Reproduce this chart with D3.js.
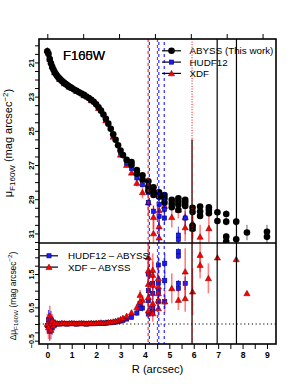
<!DOCTYPE html>
<html>
<head>
<meta charset="utf-8">
<script src="https://cdn.jsdelivr.net/npm/d3@7"></script>
<style>
  html, body { margin: 0; padding: 0; background: #fff; }
  svg { display: block; font-family: "Liberation Sans", Arial, sans-serif; }
</style>
</head>
<body>
<script>
// ABYSS profile, inner part (dense sampling)
const abyssInR = [0, 0.05, 0.1, 0.15, 0.2, 0.25, 0.3, 0.35, 0.4, 0.45, 0.5, 0.55, 0.6, 0.65, 0.7, 0.75, 0.8, 0.85, 0.9, 0.95, 1.0,
  1.1, 1.2, 1.3, 1.4, 1.5, 1.6, 1.7, 1.8, 1.9, 2.0, 2.1, 2.2, 2.3, 2.4, 2.5, 2.6, 2.7, 2.8, 2.9, 3.0, 3.1, 3.25];
const abyssInMu = [20.35, 20.5, 20.8, 21.05, 21.25, 21.42, 21.56, 21.68, 21.78, 21.87, 21.95, 22.02, 22.09, 22.15, 22.21, 22.26, 22.31, 22.36, 22.41, 22.46, 22.5,
  22.58, 22.66, 22.74, 22.82, 22.9, 22.99, 23.08, 23.18, 23.3, 23.45, 23.62, 23.82, 24.05, 24.3, 24.58, 24.88, 25.2, 25.52, 25.85, 26.15, 26.42, 26.7];

// ABYSS profile, outer part (several values per radius)
const abyssOutR = [3.45, 3.67, 3.9, 4.14, 4.35, 4.58, 4.8, 5.1, 5.37, 5.65, 5.95, 6.26, 6.62, 6.97, 7.33, 7.74, 8.18, 9.0];
const abyssOutMu = [[26.82, 27.0], [27.3, 27.5], [27.6, 27.85], [27.95, 28.26, 28.5], [28.3, 28.55, 28.75], [28.6, 28.85],
  [28.75, 28.95, 29.2], [29.04, 29.27, 29.47], [28.94, 29.14, 29.33, 29.63], [29.04, 29.2, 29.39], [29.5, 29.75, 30.55, 30.72],
  [29.43, 29.72, 29.98], [29.47, 29.63, 29.82], [29.76, 30.27], [29.86, 30.31, 31.19, 31.48], [30.31, 31.34], [30.95], [30.9, 31.2]];
const abyssOutErr = [0.03, 0.04, 0.05, 0.06, 0.07, 0.08, 0.09, 0.1, 0.12, 0.13, 0.15, 0.16, 0.18, 0.2, 0.22, 0.25, 0.45, 0.4];

// HUDF12 profile
const hudfR = [0.02, 0.1, 0.2, 0.3, 0.5, 0.7, 0.9, 1.2, 1.5, 1.8, 2.1, 2.4, 2.7, 3.0, 3.25, 3.45, 3.67, 3.9, 4.14, 4.14,
  4.35, 4.58, 4.58, 4.8, 4.8, 5.37, 5.37, 5.65];
const hudfMu = [20.42, 20.82, 21.26, 21.57, 21.96, 22.22, 22.42, 22.67, 22.91, 23.2, 23.64, 24.33, 25.25, 26.25, 26.88, 27.2, 27.75, 28.15, 28.6, 29.2,
  29.7, 29.3, 30.0, 29.6, 30.1, 31.1, 31.35, 30.1];
const hudfErr = [0, 0, 0, 0, 0, 0, 0, 0, 0, 0, 0, 0, 0, 0.02, 0.03, 0.04, 0.06, 0.08, 0.12, 0.2,
  0.3, 0.25, 0.35, 0.3, 0.4, 0.5, 0.5, 0.4];

// XDF profile
const xdfR = [0, 0.1, 0.2, 0.3, 0.5, 0.7, 0.9, 1.2, 1.5, 1.8, 2.1, 2.4, 2.7, 3.0, 3.25, 3.45, 3.67, 3.9, 4.14,
  4.35, 4.35, 4.58, 4.58, 4.58, 4.8, 5.1, 5.37, 5.65, 5.65, 5.95, 5.95, 6.26, 6.62];
const xdfMu = [20.3, 20.8, 21.25, 21.58, 21.97, 22.23, 22.43, 22.68, 22.93, 23.22, 23.68, 24.4, 25.35, 26.4, 27.0, 27.45, 28.05, 28.6, 29.2,
  30.05, 31.0, 29.65, 30.6, 31.25, 29.4, 30.05, 29.62, 30.05, 30.65, 30.4, 30.72, 31.2, 30.7];
const xdfErr = [0, 0, 0, 0, 0, 0, 0, 0, 0, 0, 0, 0, 0.03, 0.05, 0.08, 0.12, 0.2, 0.35, 0.8,
  0.7, 0.8, 0.9, 0.8, 0.6, 0.7, 0.6, 0.5, 1.0, 0.8, 0.9, 0.8, 0.7, 0.8];

// differences, inner radii shared by both
const diffR = [0, 0.05, 0.1, 0.15, 0.2, 0.25, 0.3, 0.4, 0.5, 0.6, 0.7, 0.8, 0.9, 1.0, 1.1, 1.2, 1.3, 1.4, 1.5, 1.6, 1.7, 1.8, 1.9,
  2.0, 2.1, 2.2, 2.3, 2.4, 2.5, 2.6, 2.7, 2.8, 2.9, 3.0, 3.1, 3.25, 3.45, 3.67, 3.9];
const hudfDiffIn = [-0.05, 0.12, -0.22, 0.15, -0.12, 0.06, -0.02, 0.01, 0.0, 0.02, 0.01, 0.0, 0.01, 0.02, 0.01, 0.0, 0.01, 0.02, 0.01, 0.0, 0.01, 0.02, 0.01,
  0.02, 0.02, 0.03, 0.02, 0.03, 0.04, 0.04, 0.05, 0.06, 0.07, 0.09, 0.11, 0.15, 0.2, 0.33, 0.48];
const hudfDiffInErr = [0.2, 0.3, 0.28, 0.25, 0.2, 0.12, 0.06, 0.02, 0.02, 0.02, 0.02, 0.02, 0.02, 0.02, 0.02, 0.02, 0.02, 0.02, 0.02, 0.02, 0.02, 0.02, 0.02,
  0.02, 0.02, 0.02, 0.02, 0.02, 0.02, 0.02, 0.02, 0.03, 0.03, 0.04, 0.04, 0.05, 0.06, 0.08, 0.1];
const xdfDiffIn = [0.0, -0.1, 0.25, -0.18, 0.1, -0.05, 0.03, 0.02, 0.01, 0.03, 0.02, 0.01, 0.02, 0.03, 0.02, 0.01, 0.02, 0.03, 0.02, 0.01, 0.02, 0.03, 0.02,
  0.03, 0.03, 0.04, 0.03, 0.04, 0.05, 0.06, 0.07, 0.09, 0.11, 0.14, 0.18, 0.24, 0.34, 0.5, 0.72];
const xdfDiffInErr = [0.3, 0.35, 0.3, 0.28, 0.2, 0.12, 0.06, 0.02, 0.02, 0.02, 0.02, 0.02, 0.02, 0.02, 0.02, 0.02, 0.02, 0.02, 0.02, 0.02, 0.02, 0.02, 0.02,
  0.02, 0.02, 0.02, 0.02, 0.02, 0.02, 0.02, 0.02, 0.03, 0.04, 0.04, 0.05, 0.06, 0.08, 0.1, 0.15];

// differences, outer radii
const hudfDiffOutR = [3.8, 3.8, 4.14, 4.14, 4.14, 4.14, 4.32, 4.32, 4.32, 4.32, 4.55, 4.55, 4.55, 4.55, 4.81, 4.81, 4.81, 5.37, 5.37, 5.37, 5.37, 5.65];
const hudfDiffOut = [0.47, 0.62, 0.3, 0.7, 1.0, 1.5, 1.22, 0.92, 0.47, 0.37, 1.77, 1.22, 0.97, 0.67, 1.82, 1.3, 0.67, 2.17, 2.04, 1.22, 1.07, 1.22];
const hudfDiffOutErr = [0.06, 0.08, 0.15, 0.2, 0.2, 0.25, 0.2, 0.2, 0.15, 0.15, 0.25, 0.2, 0.2, 0.15, 0.3, 0.25, 0.2, 0.1, 0.1, 0.1, 0.1, 0.2];
const xdfDiffOutR = [3.8, 3.8, 4.14, 4.14, 4.14, 4.14, 4.14, 4.32, 4.32, 4.32, 4.32, 4.32, 4.55, 4.55, 4.55, 4.55, 4.55,
  4.81, 5.1, 5.37, 5.65, 5.65, 5.95, 6.26, 6.26, 6.6, 6.97, 7.74, 8.18];
const xdfDiffOut = [0.67, 0.87, 0.4, 0.8, 1.2, 1.6, 2.0, 1.62, 1.47, 1.17, 0.62, 0.32, 1.37, 1.12, 0.92, 0.72, 0.47,
  0.67, 1.07, 0.72, 1.57, 0.77, 0.97, 2.07, 1.77, 1.37, 1.99, 1.94, 0.92];
const xdfDiffOutErr = [0.12, 0.15, 0.2, 0.3, 0.35, 0.4, 0.5, 0.5, 0.4, 0.35, 0.3, 0.25, 0.4, 0.35, 0.3, 0.3, 0.25,
  0.35, 0.45, 0.3, 0.7, 0.4, 0.7, 0.5, 0.4, 0.45, 0, 0, 0];

// limiting radii (vertical lines)
const hudfLimits = [4.18, 4.57, 4.79];
const xdfLimits = [4.13, 4.51];
const xdfDotLimits = [5.93];
const abyssLimits = [5.93, 6.96, 7.75];
const abyssLimitTop = [25.5, null, null];

// ticks
const xLabels = [0, 1, 2, 3, 4, 5, 6, 7, 8, 9];
const topTicks = [0, 1.47, 2.94, 4.41, 5.88, 7.35, 8.82];
const yTopLabels = [21, 23, 25, 27, 29, 31];
const yBotLabels = [-0.5, 0.5, 1.5];

const w = 307;
const h = 384;
const pL = 39, pR = 276, pT = 39, pM = 243, pB = 344;

const svg = d3.select("body").append("svg").attr("width", w).attr("height", h);

const x = d3.scaleLinear().domain([-0.34, 9.37]).range([pL, pR]);
const yTop = d3.scaleLinear().domain([19.63, 31.56]).range([pT, pM]);
const yBot = d3.scaleLinear().domain([2.43, -0.6]).range([pM, pB]);

const RED = "#ff0000", BLUE = "#1a1aff";

const defs = svg.append("defs");
defs.append("clipPath").attr("id", "clipTop").append("rect")
  .attr("x", pL).attr("y", pT).attr("width", pR - pL).attr("height", pM - pT);
defs.append("clipPath").attr("id", "clipBot").append("rect")
  .attr("x", pL).attr("y", pM).attr("width", pR - pL).attr("height", pB - pM);

const gTop = svg.append("g").attr("clip-path", "url(#clipTop)");
const gBot = svg.append("g").attr("clip-path", "url(#clipBot)");

function zip(rs, vs, es) {
  return rs.map((r, i) => ({ r: r, v: vs[i], e: es ? es[i] : 0 }));
}

const triangle = d3.symbol().type(d3.symbolTriangle).size(17);

function marker(g, kind, px, py) {
  if (kind === "circle") {
    g.append("circle").attr("cx", px).attr("cy", py).attr("r", 3.3).attr("fill", "#000");
  } else if (kind === "square") {
    g.append("rect").attr("x", px - 2.1).attr("y", py - 2.1).attr("width", 4.2).attr("height", 4.2)
      .attr("fill", BLUE).attr("stroke", "#000070").attr("stroke-width", 0.6);
  } else {
    g.append("path").attr("d", triangle).attr("transform", `translate(${px},${py + 0.6})`)
      .attr("fill", RED).attr("stroke", "#6a0000").attr("stroke-width", 0.5);
  }
}

function series(g, data, yS, kind, errColor, errWidth) {
  const eg = g.append("g");
  data.filter(d => d.e > 0).forEach(d => {
    eg.append("line")
      .attr("x1", x(d.r)).attr("x2", x(d.r))
      .attr("y1", yS(d.v - d.e)).attr("y2", yS(d.v + d.e))
      .attr("stroke", errColor).attr("stroke-width", errWidth);
  });
  const mg = g.append("g");
  data.forEach(d => marker(mg, kind, x(d.r), yS(d.v)));
}

// ---- upper panel
const abyssData = zip(abyssInR, abyssInMu);
abyssOutR.forEach((r, i) => abyssOutMu[i].forEach(m => abyssData.push({ r: r, v: m, e: abyssOutErr[i] })));

series(gTop, zip(xdfR, xdfMu, xdfErr), yTop, "triangle", "rgba(255,0,0,0.5)", 1.6);
series(gTop, zip(hudfR, hudfMu, hudfErr), yTop, "square", "rgba(20,20,255,0.7)", 1);
series(gTop, abyssData, yTop, "circle", "rgba(0,0,0,0.6)", 1);

// ---- lower panel
gBot.append("line")
  .attr("x1", pL).attr("x2", pR).attr("y1", yBot(0)).attr("y2", yBot(0))
  .attr("stroke", "#000").attr("stroke-width", 1).attr("stroke-dasharray", "1.2,2.6");

series(gBot, zip(diffR, hudfDiffIn, hudfDiffInErr).concat(zip(hudfDiffOutR, hudfDiffOut, hudfDiffOutErr)),
  yBot, "square", "rgba(20,20,255,0.75)", 1.2);
series(gBot, zip(diffR, xdfDiffIn, xdfDiffInErr).concat(zip(xdfDiffOutR, xdfDiffOut, xdfDiffOutErr)),
  yBot, "triangle", "rgba(255,0,0,0.5)", 1.6);

// ---- limiting radii
const lines = svg.append("g");
abyssLimits.forEach((r, i) => {
  lines.append("line").attr("x1", x(r)).attr("x2", x(r))
    .attr("y1", abyssLimitTop[i] === null ? pT : yTop(abyssLimitTop[i])).attr("y2", pB)
    .attr("stroke", "#000").attr("stroke-width", 1.2);
});
xdfDotLimits.forEach(r => {
  lines.append("line").attr("x1", x(r)).attr("x2", x(r)).attr("y1", pT).attr("y2", pB)
    .attr("stroke", RED).attr("stroke-width", 1).attr("stroke-dasharray", "1,1.6");
});
xdfLimits.forEach(r => {
  lines.append("line").attr("x1", x(r)).attr("x2", x(r)).attr("y1", pT).attr("y2", pB)
    .attr("stroke", RED).attr("stroke-width", 1).attr("stroke-dasharray", "3,3");
});
hudfLimits.forEach(r => {
  lines.append("line").attr("x1", x(r)).attr("x2", x(r)).attr("y1", pT).attr("y2", pB)
    .attr("stroke", "#0000ff").attr("stroke-width", 1).attr("stroke-dasharray", "3,3")
    .attr("stroke-dashoffset", 3);
});

// ---- axes
function styleAxis(g) {
  g.select(".domain").remove();
  g.selectAll(".tick line").attr("stroke", "#000").attr("stroke-width", 1);
  g.selectAll(".tick text").attr("fill", "#000");
}

svg.append("g")
  .attr("transform", `translate(0,${pB})`)
  .call(d3.axisBottom(x).tickValues(d3.range(0, 9.01, 0.5)).tickSize(5).tickPadding(3)
    .tickFormat(d => xLabels.includes(d) ? d : ""))
  .call(styleAxis)
  .call(g => g.selectAll(".tick text").attr("font-size", 8.6).attr("font-weight", "bold"));

svg.append("g")
  .attr("transform", `translate(0,${pT})`)
  .call(d3.axisTop(x).tickValues(topTicks).tickSize(5).tickFormat(""))
  .call(styleAxis);

function leftAxis(yS, ticks, labels, fs) {
  svg.append("g")
    .attr("transform", `translate(${pL},0)`)
    .call(d3.axisLeft(yS).tickValues(ticks).tickSize(4)
      .tickFormat(d => labels.includes(d) ? d3.format("")(d) : ""))
    .call(styleAxis)
    .call(g => g.selectAll(".tick text")
      .attr("transform", "rotate(-90)")
      .attr("x", 0).attr("y", -5.5).attr("dy", 0)
      .attr("text-anchor", "middle")
      .attr("font-size", fs).attr("font-weight", "bold"));
}
leftAxis(yTop, d3.range(20, 31.51, 0.5), yTopLabels, 7.6);
leftAxis(yBot, d3.range(-0.5, 2.26, 0.25), yBotLabels, 7.2);

// ---- frame
svg.append("rect").attr("x", pL).attr("y", pT).attr("width", pR - pL).attr("height", pB - pT)
  .attr("fill", "none").attr("stroke", "#000").attr("stroke-width", 1.6);
svg.append("line").attr("x1", pL).attr("x2", pR).attr("y1", pM).attr("y2", pM)
  .attr("stroke", "#000").attr("stroke-width", 1.6);

// ---- labels
["F160W", "F105W"].forEach(t => {
  svg.append("text").attr("x", 63).attr("y", 59.5).attr("font-size", 13).text(t);
});

function legend(items, lx0, lx1, tx, y0, dy) {
  items.forEach((it, i) => {
    const yy = y0 + i * dy;
    svg.append("line").attr("x1", lx0).attr("x2", lx1).attr("y1", yy).attr("y2", yy)
      .attr("stroke", "#000").attr("stroke-width", 1.2);
    marker(svg, it.kind, (lx0 + lx1) / 2, yy);
    svg.append("text").attr("x", tx).attr("y", yy + 3.5).attr("font-size", 9.8).text(it.label);
  });
}
legend([{ kind: "circle", label: "ABYSS (This work)" }, { kind: "square", label: "HUDF12" }, { kind: "triangle", label: "XDF" }],
  162, 181, 189.5, 50.8, 11.3);
legend([{ kind: "square", label: "HUDF12 \u2013 ABYSS" }, { kind: "triangle", label: "XDF \u2013 ABYSS" }],
  40, 58, 68, 255.8, 11.3);

svg.append("text").attr("x", 157.5).attr("y", 373).attr("text-anchor", "middle").attr("font-size", 11.2)
  .text("R (arcsec)");

function yTitle(cx, cy, fs, sfs, prefix) {
  const t = svg.append("text").attr("transform", `translate(${cx},${cy}) rotate(-90)`)
    .attr("text-anchor", "middle").attr("font-size", fs);
  t.append("tspan").text(prefix);
  t.append("tspan").attr("font-size", sfs).attr("dy", fs * 0.25).text("F160W");
  t.append("tspan").attr("dy", -fs * 0.25).text(" (mag arcsec");
  t.append("tspan").attr("font-size", sfs).attr("dy", -fs * 0.4).text("\u22122");
  t.append("tspan").attr("dy", fs * 0.4).text(")");
}
yTitle(12, 143, 11, 8, "\u03bc");
yTitle(15.5, 296, 8.4, 6.2, "\u0394\u03bc");
</script>
</body>
</html>
